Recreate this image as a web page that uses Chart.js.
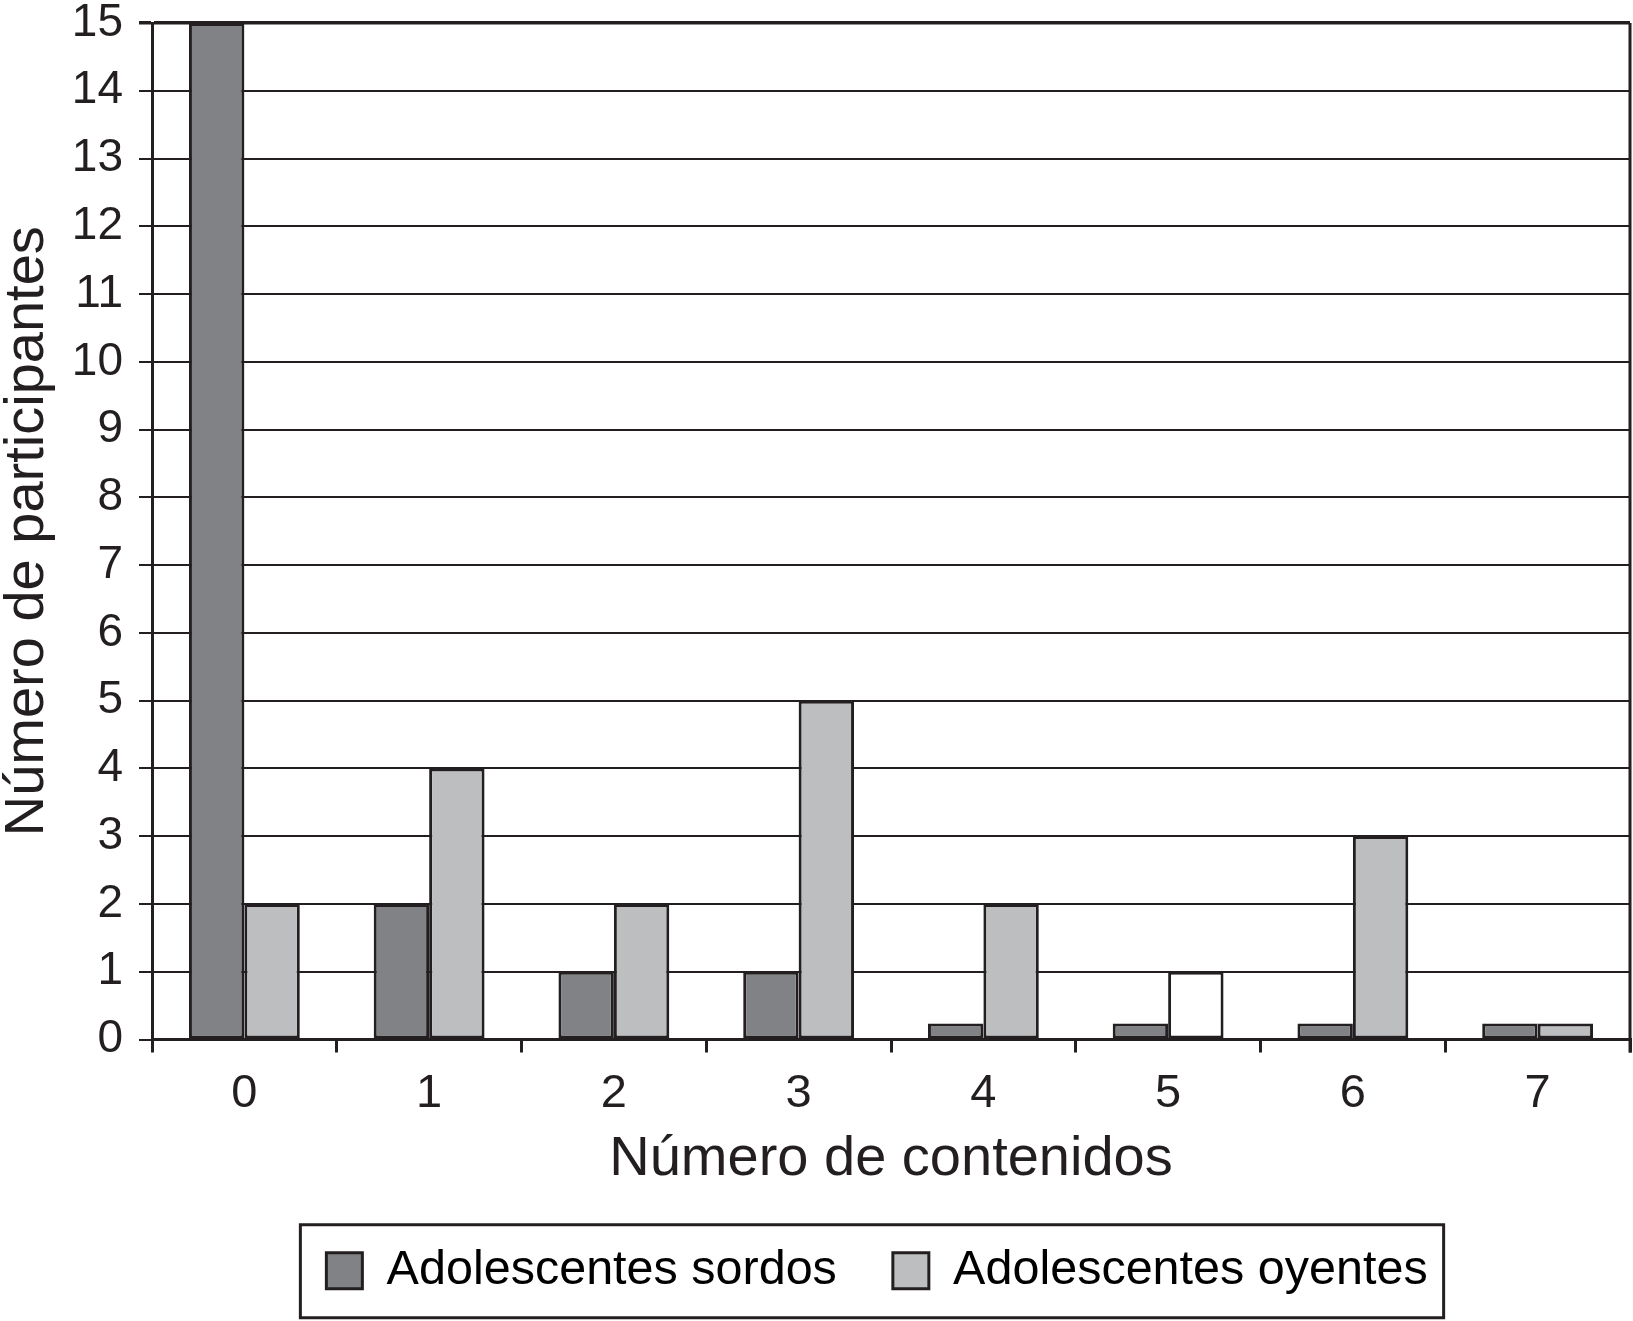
<!DOCTYPE html>
<html>
<head>
<meta charset="utf-8">
<script src="https://cdn.jsdelivr.net/npm/chart.js@4.4.0/dist/chart.umd.min.js"></script>
<style>
html,body{margin:0;padding:0;background:#fff;}
#wrap{width:1633px;height:1321px;}
</style>
</head>
<body>
<div id="wrap"><canvas id="c" width="1633" height="1321"></canvas></div>
<script>
const categories = ['0','1','2','3','4','5','6','7'];
const sordos = [15, 2, 1, 1, 0, 0, 0, 0];
const oyentes = [2, 4, 2, 5, 2, 1, 3, 0];
const seriesNames = ['Adolescentes sordos', 'Adolescentes oyentes'];
const yTicks = [0,1,2,3,4,5,6,7,8,9,10,11,12,13,14,15];

const FONT = "'Liberation Sans', Arial, Helvetica, sans-serif";
const INK = '#231f20';
const DARK = '#808285';
const LIGHT = '#bcbec0';

const framePlugin = {
  id: 'frame',
  afterLayout(chart) {
    const lg = chart.legend;
    if (lg) { lg.left -= 14; lg.right -= 14; }
  },
  afterDraw(chart) {
    const ctx = chart.ctx;
    const a = chart.chartArea;
    ctx.save();
    ctx.strokeStyle = INK;
    ctx.lineWidth = 3;
    ctx.beginPath();
    ctx.moveTo(a.right, a.top);
    ctx.lineTo(a.right, a.bottom + 13);
    ctx.stroke();
    const lg = chart.legend;
    if (lg && lg.legendHitBoxes && lg.legendHitBoxes.length) {
      const hb = lg.legendHitBoxes;
      const last = hb[hb.length - 1];
      const cy = hb[0].top + hb[0].height / 2;
      const x0 = hb[0].left - 26;
      const x1 = last.left + last.width + 16;
      ctx.strokeRect(x0, cy - 46, x1 - x0, 93);
    }
    ctx.restore();
  }
};

new Chart(document.getElementById('c'), {
  type: 'bar',
  data: {
    labels: categories,
    datasets: [
      {
        label: seriesNames[0],
        data: sordos,
        backgroundColor: DARK,
        borderColor: INK,
        borderWidth: 3,
        borderSkipped: false,
        minBarLength: 16
      },
      {
        label: seriesNames[1],
        data: oyentes,
        backgroundColor: (c) => c.dataIndex === 5 ? '#ffffff' : LIGHT,
        borderColor: INK,
        borderWidth: 3,
        borderSkipped: false,
        minBarLength: 16
      }
    ]
  },
  options: {
    responsive: false,
    animation: false,
    devicePixelRatio: 1,
    layout: { padding: { top: 23, right: 3, left: 0, bottom: 16 } },
    datasets: { bar: { categoryPercentage: 0.6, barPercentage: 1.0 } },
    plugins: {
      tooltip: { enabled: false },
      legend: {
        position: 'bottom',
        fullSize: false,
        labels: {
          color: INK,
          font: { family: FONT, size: 48.5 },
          boxWidth: 36,
          boxHeight: 36,
          padding: 56,
          generateLabels(chart) {
            return chart.data.datasets.map((d, i) => ({
              text: d.label,
              fillStyle: i === 0 ? DARK : LIGHT,
              strokeStyle: INK,
              lineWidth: 3,
              datasetIndex: i,
              hidden: false
            }));
          }
        }
      }
    },
    scales: {
      x: {
        afterFit(s) { s.height = 151; },
        grid: {
          offset: true,
          drawOnChartArea: false,
          drawTicks: true,
          tickLength: 13,
          color: INK,
          lineWidth: 3
        },
        border: { display: true, color: INK, width: 3 },
        ticks: {
          color: INK,
          font: { family: FONT, size: 47, lineHeight: 1.2 },
          padding: 13
        },
        title: {
          display: true,
          text: 'Número de contenidos',
          color: INK,
          font: { family: FONT, size: 56, lineHeight: 1 },
          padding: { top: 0, bottom: 3 }
        }
      },
      y: {
        min: 0,
        max: 15,
        afterFit(s) { s.width = 152; },
        afterBuildTicks(s) { s.ticks = yTicks.map(v => ({ value: v })); },
        grid: {
          color: INK,
          lineWidth: (c) => (c.tick && c.tick.value === 15) ? 3.5 : 2,
          drawTicks: true,
          tickLength: 13
        },
        border: { display: true, color: INK, width: 3 },
        ticks: {
          color: INK,
          font: { family: FONT, size: 46, lineHeight: 0.3 },
          padding: 16
        },
        title: {
          display: true,
          text: 'Número de participantes',
          color: INK,
          font: { family: FONT, size: 56, lineHeight: 1 },
          padding: { top: 0, bottom: 0 }
        }
      }
    }
  },
  plugins: [framePlugin]
});
</script>
</body>
</html>
